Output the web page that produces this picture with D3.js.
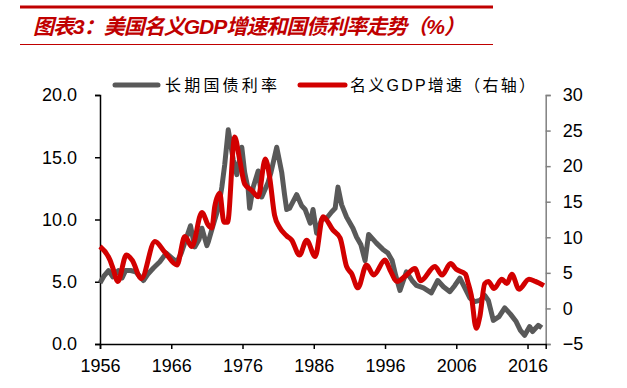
<!DOCTYPE html>
<html>
<head>
<meta charset="utf-8">
<script src="https://cdn.jsdelivr.net/npm/d3@7"></script>
<style>
  body { margin: 0; background: #fff; }
  svg { display: block; }
</style>
</head>
<body>
<div id="chart"></div>
<script>
// [decimal year, value]
const bondYield = [
  [1956.0, 4.9], [1956.6, 5.5], [1957.2, 5.9], [1957.8, 5.4], [1958.6, 5.9], [1959.1, 5.3],
  [1959.6, 5.9], [1960.3, 5.9], [1961.0, 5.8], [1962.1, 5.1], [1962.7, 5.6], [1963.5, 6.1],
  [1964.4, 6.6], [1965.3, 7.3], [1966.3, 6.8], [1966.8, 6.6], [1967.4, 7.3], [1968.7, 9.5],
  [1969.3, 7.8], [1969.9, 8.4], [1970.3, 9.3], [1971.0, 7.9], [1971.2, 8.2], [1971.9, 9.6],
  [1972.6, 10.9], [1973.1, 12.6], [1973.5, 14.4], [1974.0, 17.2], [1974.7, 14.8], [1975.2, 13.6],
  [1975.9, 15.8], [1976.3, 13.8], [1976.8, 12.4], [1977.0, 10.9], [1977.5, 12.6], [1978.2, 13.9],
  [1978.7, 11.8], [1979.6, 13.0], [1980.0, 13.8], [1980.8, 15.8], [1981.5, 13.8], [1981.9, 12.0],
  [1982.2, 10.8], [1982.6, 10.9], [1983.6, 12.0], [1984.3, 11.1], [1984.8, 10.8], [1985.5, 9.7],
  [1985.9, 10.8], [1986.4, 8.9], [1987.1, 10.0], [1987.8, 10.1], [1988.5, 10.6], [1989.0, 10.9],
  [1989.4, 12.6], [1989.9, 11.2], [1990.6, 10.2], [1991.5, 9.3], [1992.0, 8.6], [1992.6, 8.0],
  [1993.2, 6.7], [1993.7, 8.8], [1994.8, 8.1], [1995.7, 7.6], [1996.4, 7.3], [1997.0, 6.7],
  [1997.5, 5.5], [1998.1, 4.3], [1999.0, 5.8], [1999.8, 5.1], [2000.4, 4.7], [2001.4, 4.5],
  [2002.5, 4.1], [2003.4, 5.1], [2004.2, 4.6], [2005.1, 4.2], [2005.8, 4.7], [2006.5, 5.3],
  [2007.2, 4.5], [2007.9, 3.7], [2008.6, 3.4], [2009.3, 3.5], [2010.0, 3.9], [2010.5, 3.5],
  [2011.2, 1.9], [2012.0, 2.2], [2012.8, 2.9], [2013.6, 2.4], [2014.4, 1.8], [2015.0, 1.1],
  [2015.6, 0.7], [2016.3, 1.4], [2016.7, 1.0], [2017.5, 1.5], [2018.0, 1.3]
];

const gdpGrowth = [
  [1956.0, 8.7], [1957.4, 6.8], [1957.8, 5.7], [1958.5, 3.8], [1959.7, 7.5], [1960.5, 6.8],
  [1961.8, 4.2], [1963.7, 9.4], [1965.1, 7.9], [1966.8, 6.1], [1967.9, 10.1], [1968.9, 8.7],
  [1970.3, 13.5], [1971.2, 11.7], [1971.7, 11.3], [1972.1, 14.3], [1972.8, 16.2], [1973.4, 12.1],
  [1973.9, 12.1], [1974.9, 24.1], [1975.6, 20.9], [1976.3, 17.5], [1977.3, 16.6], [1978.2, 15.7],
  [1979.2, 21.0], [1979.8, 18.5], [1980.5, 13.1], [1981.2, 11.4], [1982.2, 10.2], [1982.9, 9.6],
  [1984.0, 7.5], [1985.0, 9.6], [1986.2, 7.3], [1987.3, 12.9], [1988.7, 11.0], [1989.7, 9.9],
  [1990.6, 5.9], [1991.3, 4.9], [1992.2, 2.9], [1993.4, 6.1], [1994.4, 4.7], [1996.0, 6.8],
  [1996.7, 5.4], [1997.7, 3.8], [1998.8, 4.5], [2000.2, 5.6], [2001.0, 3.9], [2003.0, 5.9],
  [2004.0, 4.7], [2005.2, 6.3], [2006.0, 5.5], [2007.3, 4.8], [2007.6, 3.8], [2008.1, 1.9],
  [2008.8, -2.8], [2009.3, -1.2], [2010.0, 3.5], [2010.5, 3.8], [2011.3, 2.8], [2012.4, 4.1],
  [2013.1, 3.5], [2013.8, 4.8], [2014.8, 2.7], [2016.2, 4.1], [2017.1, 3.8], [2018.3, 3.2]
];

const yearTicks = [1956, 1966, 1976, 1986, 1996, 2006, 2016];
const leftTicks = [0, 5, 10, 15, 20];
const rightTicks = [-5, 0, 5, 10, 15, 20, 25, 30];

const titleText = "图表3：美国名义GDP增速和国债利率走势（%）";
const seriesNames = ["长期国债利率", "名义GDP增速（右轴）"];

const W = 627, H = 388;
const font = "'Liberation Sans', Arial, 'Noto Sans CJK SC', sans-serif";

const svg = d3.select("#chart")
  .append("svg")
    .attr("width", W)
    .attr("height", H)
    .style("font-family", font);

// title block
svg.append("line")
  .attr("x1", 20).attr("x2", 493).attr("y1", 7).attr("y2", 7)
  .style("stroke", "#c00000").style("stroke-width", 3);
svg.append("line")
  .attr("x1", 20).attr("x2", 493).attr("y1", 44.5).attr("y2", 44.5)
  .style("stroke", "#c00000").style("stroke-width", 1);
svg.append("text")
  .attr("x", 33).attr("y", 34)
  .style("font-size", "21px")
  .style("font-weight", "bold")
  .style("font-style", "italic")
  .style("fill", "#c00000")
  .attr("textLength", 432)
  .text(titleText);

const x = d3.scaleLinear().domain([1956, 2018.55]).range([100, 545.7]);
const yL = d3.scaleLinear().domain([0, 20]).range([344, 95]);
const yR = d3.scaleLinear().domain([-5, 30]).range([344, 95]);

// axes
const gL = svg.append("g")
  .attr("transform", "translate(100,0)")
  .call(d3.axisLeft(yL).tickValues(leftTicks).tickFormat(d3.format(".1f")).tickSize(5).tickPadding(18));
const gR = svg.append("g")
  .attr("transform", "translate(545.7,0)")
  .call(d3.axisRight(yR).tickValues(rightTicks).tickSize(5).tickPadding(12));
const gB = svg.append("g")
  .attr("transform", "translate(0,344)")
  .call(d3.axisBottom(x).tickValues(yearTicks).tickFormat(d3.format("d")).tickSize(5).tickPadding(10));

[gL, gR, gB].forEach(g => {
  g.selectAll("text").style("font-size", "18px").style("font-family", font).style("fill", "#000");
});
gL.select(".domain").style("stroke", "#000").style("stroke-width", 1.5);
gL.selectAll(".tick line").style("stroke", "#000").style("stroke-width", 1.5);
gB.select(".domain").style("stroke", "#000").style("stroke-width", 1.5);
gB.selectAll(".tick line").style("stroke", "#000").style("stroke-width", 1.5);
gR.select(".domain").style("stroke", "#808080").style("stroke-width", 1.5);
gR.selectAll(".tick line").style("stroke", "#808080").style("stroke-width", 1.5);

// lines: yield is jagged, GDP is smooth
const lineL = d3.line().x(d => x(d[0])).y(d => yL(d[1]));
const lineR = d3.line().x(d => x(d[0])).y(d => yR(d[1])).curve(d3.curveMonotoneX);

svg.append("path")
  .datum(bondYield)
  .attr("d", lineL)
  .style("fill", "none")
  .style("stroke", "#595959")
  .style("stroke-width", 5)
  .style("stroke-linejoin", "round");

svg.append("path")
  .datum(gdpGrowth)
  .attr("d", lineR)
  .style("fill", "none")
  .style("stroke", "#d20000")
  .style("stroke-width", 5)
  .style("stroke-linejoin", "round");

// legend
const legend = svg.append("g").attr("id", "legend");
const legendItems = [
  { name: seriesNames[0], color: "#595959", x0: 115, x1: 158, tx: 165, len: 112 },
  { name: seriesNames[1], color: "#d20000", x0: 300, x1: 345, tx: 350, len: 185 }
];
legendItems.forEach(d => {
  legend.append("line")
    .attr("x1", d.x0).attr("x2", d.x1).attr("y1", 85).attr("y2", 85)
    .style("stroke", d.color).style("stroke-width", 5).style("stroke-linecap", "round");
  legend.append("text")
    .attr("x", d.tx).attr("y", 91)
    .style("font-size", "16px")
    .attr("textLength", d.len)
    .text(d.name);
});
</script>
</body>
</html>
